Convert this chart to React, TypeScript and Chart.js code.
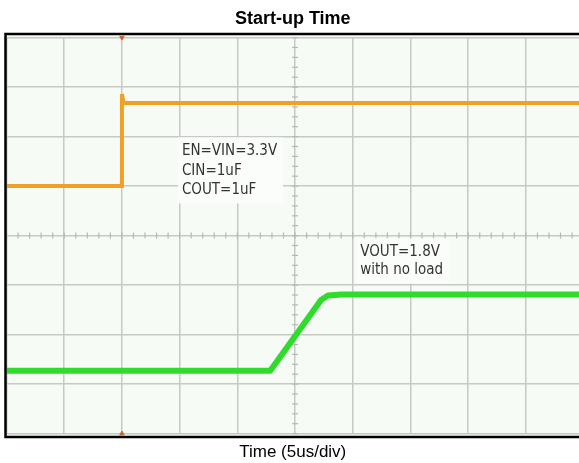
import React, { useEffect, useRef } from "react";
import { Chart, registerables } from "chart.js";

Chart.register(...registerables);

const TITLE = "Start-up Time";
const X_LABEL = "Time (5us/div)";

// time axis in divisions (5us/div), vertical axis in screen divisions
const EN_X = [0, 2.0, 2.0, 2.03, 9.92];
const EN_Y = [5.0, 5.0, 6.86, 6.68, 6.68];
const VOUT_X = [0, 4.57, 5.45, 5.57, 5.8, 9.92];
const VOUT_Y = [1.27, 1.27, 2.7, 2.79, 2.81, 2.81];
const TRIGGER_X = [2.0, 2.0];
const TRIGGER_Y = [8, 0];

const NOTE_EN = ["EN=VIN=3.3V", "CIN=1uF", "COUT=1uF"];
const NOTE_VOUT = ["VOUT=1.8V", "with no load"];

const FONT = "'Liberation Sans', Arial, sans-serif";
const NOTE_FONT = "'Liberation Sans Narrow', 'Arial Narrow', 'DejaVu Sans Condensed', Arial, sans-serif";

const scopePlugin = {
  id: "scope",
  beforeDraw(chart: any) {
    const { ctx, chartArea } = chart;
    ctx.save();
    ctx.fillStyle = "#f7fbf5";
    ctx.fillRect(chartArea.left - 1, 35, chart.width, 401);
    ctx.restore();
  },
  beforeDatasetsDraw(chart: any) {
    const { ctx } = chart;
    const xs = chart.scales.x;
    const ys = chart.scales.y;
    const cx = xs.getPixelForValue(5);
    const cy = ys.getPixelForValue(4);
    ctx.save();
    ctx.strokeStyle = "#b4b9b4";
    ctx.lineWidth = 1.2;
    for (let i = 0; i <= 50; i++) {
      const px = xs.getPixelForValue(i * 0.2);
      ctx.beginPath();
      ctx.moveTo(px, cy - 3);
      ctx.lineTo(px, cy + 3);
      ctx.stroke();
    }
    for (let i = 0; i <= 40; i++) {
      const py = ys.getPixelForValue(i * 0.2);
      ctx.beginPath();
      ctx.moveTo(cx - 3, py);
      ctx.lineTo(cx + 3, py);
      ctx.stroke();
    }
    const drawNote = (lines: string[], vx: number, vy: number, gap: number) => {
      ctx.font = `15px ${NOTE_FONT}`;
      const x0 = xs.getPixelForValue(vx);
      const y0 = ys.getPixelForValue(vy);
      let w = 0;
      lines.forEach((l) => (w = Math.max(w, ctx.measureText(l).width)));
      ctx.fillStyle = "#fbfdfb";
      ctx.fillRect(x0 - 4, y0 - 14, w + 10, gap * (lines.length - 1) + 27);
      ctx.fillStyle = "#333333";
      ctx.textBaseline = "middle";
      ctx.textAlign = "left";
      lines.forEach((l, i) => ctx.fillText(l, x0, y0 + i * gap));
    };
    drawNote(NOTE_EN, 3.04, 5.7, 19.5);
    drawNote(NOTE_VOUT, 6.13, 3.66, 18);
    ctx.restore();
  },
  afterDraw(chart: any) {
    const { ctx } = chart;
    ctx.save();
    ctx.strokeStyle = "#000";
    ctx.lineWidth = 2.5;
    ctx.strokeRect(5.5, 34, chart.width + 10, 403);
    ctx.restore();
  },
};

export default function App() {
  const ref = useRef<HTMLCanvasElement | null>(null);
  useEffect(() => {
    if (!ref.current) return;
    const chart = new Chart(ref.current, {
      type: "line",
      data: {
        datasets: [
          {
            label: "EN",
            data: EN_X.map((x, i) => ({ x, y: EN_Y[i] })),
            borderColor: "#f0a024",
            borderWidth: 4,
            pointRadius: 0,
            tension: 0,
          },
          {
            label: "VOUT",
            data: VOUT_X.map((x, i) => ({ x, y: VOUT_Y[i] })),
            borderColor: "#2fdc2c",
            borderWidth: 6,
            pointRadius: 0,
            tension: 0,
            borderJoinStyle: "round",
          },
          {
            label: "Trigger",
            data: TRIGGER_X.map((x, i) => ({ x, y: TRIGGER_Y[i] })),
            showLine: false,
            pointStyle: "triangle",
            pointRadius: 2.5,
            pointRotation: [180, 0],
            backgroundColor: "#c86428",
            borderColor: "#c86428",
            clip: false,
          } as any,
        ],
      },
      options: {
        animation: false,
        responsive: false,
        devicePixelRatio: 1,
        layout: { autoPadding: false, padding: { left: 6.5, right: 0, top: 0, bottom: 0 } },
        plugins: {
          legend: { display: false },
          tooltip: { enabled: false },
          title: {
            display: true,
            text: TITLE,
            color: "#000",
            font: { family: FONT, size: 18, weight: "bold" },
            padding: { top: 8, bottom: 8 },
          },
        },
        scales: {
          x: {
            type: "linear",
            bounds: "data",
            min: 0,
            max: 9.92,
            ticks: { display: false, stepSize: 1, includeBounds: false },
            grid: { color: "#c6cac6", lineWidth: 1.5, drawTicks: false },
            border: { display: false },
            title: {
              display: true,
              text: X_LABEL,
              color: "#000",
              font: { family: FONT, size: 17 },
              padding: { top: 9, bottom: 0 },
            },
          },
          y: {
            type: "linear",
            min: 0,
            max: 8,
            ticks: { display: false, stepSize: 1 },
            grid: { color: "#c6cac6", lineWidth: 1.5, drawTicks: false },
            border: { display: false },
          },
        },
      },
      plugins: [scopePlugin],
    } as any);
    return () => chart.destroy();
  }, []);
  return (
    <div style={{ position: "absolute", left: 0, top: 0, width: 579, height: 463, background: "#fff" }}>
      <canvas ref={ref} width={579} height={463} />
    </div>
  );
}
